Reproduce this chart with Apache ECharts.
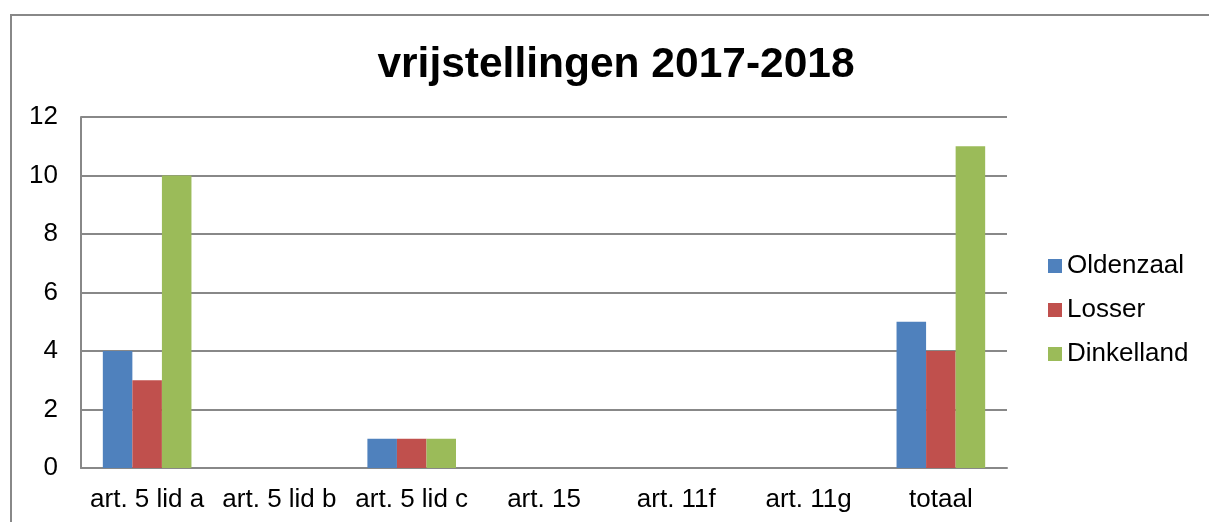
<!DOCTYPE html>
<html><head><meta charset="utf-8">
<script src="https://cdn.jsdelivr.net/npm/echarts@6/dist/echarts.min.js"></script>
<style>html,body{margin:0;padding:0;background:#fff}#c{width:1209px;height:522px}</style>
</head><body><div id="c"></div>
<script>
const categories = ['art. 5 lid a','art. 5 lid b','art. 5 lid c','art. 15','art. 11f','art. 11g','totaal'];
const oldenzaal = [4,0,1,0,0,0,5];
const losser = [3,0,1,0,0,0,4];
const dinkelland = [10,0,1,0,0,0,11];
const seriesNames = ['Oldenzaal','Losser','Dinkelland'];
const colors = ['#4F81BD','#C0504D','#9BBB59'];
const font = 'Liberation Sans, Arial, sans-serif';
const chart = echarts.init(document.getElementById('c'));
const mk = (name, data, i) => ({name, type:'bar', data, itemStyle:{color:colors[i]}, barGap:'0%', barCategoryGap:'33%'});
chart.setOption({
  animation:false,
  graphic:[{type:'rect', shape:{x:11,y:15,width:1240,height:560}, style:{fill:'none',stroke:'#888',lineWidth:2}, silent:true}],
  title:{text:'vrijstellingen 2017-2018', left:611, textAlign:'center', top:39, textStyle:{fontFamily:font,fontWeight:'bold',fontSize:42.5,color:'#000'}},
  legend:{orient:'vertical', left:1043, top:248, itemWidth:14, itemHeight:14, itemGap:18, icon:'rect',
    textStyle:{fontFamily:font,fontSize:26,lineHeight:26,color:'#000'}, data:seriesNames},
  grid:{left:81, right:202, top:117, bottom:54, containLabel:false},
  xAxis:{type:'category', data:categories, axisLine:{lineStyle:{color:'#888',width:2}}, axisTick:{show:false},
    axisLabel:{fontFamily:font,fontSize:26,color:'#000',margin:19,interval:0}},
  yAxis:{type:'value', min:0, max:12, interval:2, axisLine:{show:true,lineStyle:{color:'#888',width:2}}, axisTick:{show:false},
    splitLine:{lineStyle:{color:'#888',width:2}}, axisLabel:{fontFamily:font,fontSize:26,color:'#000',margin:23}},
  series:[mk(seriesNames[0],oldenzaal,0), mk(seriesNames[1],losser,1), mk(seriesNames[2],dinkelland,2)]
});
</script></body></html>
